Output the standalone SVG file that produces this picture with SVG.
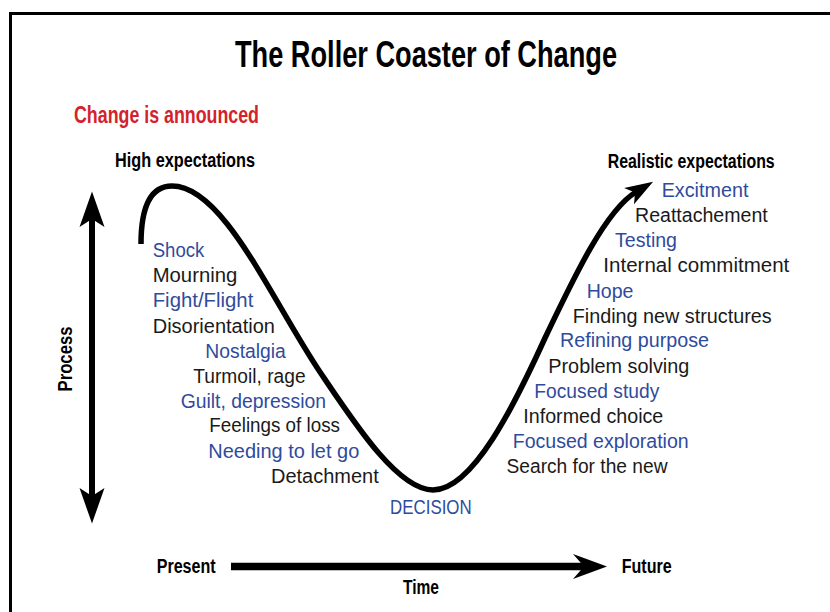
<svg xmlns="http://www.w3.org/2000/svg" width="830" height="612" viewBox="0 0 830 612">
<style>
.b{font-family:"Liberation Sans",Arial,sans-serif;font-weight:bold;fill:#000}
.r{font-family:"Liberation Sans",Arial,sans-serif;font-size:20px}
.k{fill:#1a1a1a}
.u{fill:#2f4b9c}
</style>
<rect width="830" height="612" fill="#fff"/>
<rect x="10.5" y="13.5" width="840" height="620" fill="none" stroke="#000" stroke-width="3"/>
<g id="title"><text class="b" x="235" y="67.3" font-size="36" textLength="382" lengthAdjust="spacingAndGlyphs">The Roller Coaster of Change</text></g>
<g id="announce"><text class="b" x="74" y="122.7" font-size="23" fill="#d2232a" style="fill:#d2232a" textLength="185" lengthAdjust="spacingAndGlyphs">Change is announced</text></g>
<g id="high"><text class="b" x="115" y="166.7" font-size="19.5" textLength="140" lengthAdjust="spacingAndGlyphs">High expectations</text></g>
<g id="realistic"><text class="b" x="607.7" y="168" font-size="19.5" textLength="167" lengthAdjust="spacingAndGlyphs">Realistic expectations</text></g>
<g id="connectors">
<path d="M141,244 C141,205 152,186 172,186 C223,186 270,297 320,372 C355,424 398,490 433,490 C473,490 515,404 545,338 C575,275 606,210 636,192" fill="none" stroke="#000" stroke-width="5.5"/>
<polygon points="653.1,181.7 624.1,188.1 635,192.5 634,204.3" fill="#000"/>
<line x1="92" y1="215" x2="92" y2="500" stroke="#000" stroke-width="6"/>
<polygon points="92,191.5 104.5,227 92,219 79.5,227" fill="#000"/>
<polygon points="92,523.5 104.5,488 92,496 79.5,488" fill="#000"/>
<line x1="231" y1="566.5" x2="590" y2="566.5" stroke="#000" stroke-width="7.5"/>
<polygon points="607,566.5 573,554 584,566.5 573,579" fill="#000"/>
</g>
<g id="process"><text class="b" transform="translate(71.7,359) rotate(-90)" x="0" y="0" font-size="21" text-anchor="middle" textLength="65" lengthAdjust="spacingAndGlyphs">Process</text></g>
<g id="axis-labels">
<text class="b" x="156.7" y="572.7" font-size="20" textLength="59" lengthAdjust="spacingAndGlyphs">Present</text>
<text class="b" x="621.7" y="572.7" font-size="20" textLength="50" lengthAdjust="spacingAndGlyphs">Future</text>
<text class="b" x="403" y="593.5" font-size="20" textLength="36" lengthAdjust="spacingAndGlyphs">Time</text>
</g>
<g id="left-stages">
<text class="r u" x="152.7" y="257.3" textLength="51.6" lengthAdjust="spacingAndGlyphs">Shock</text>
<text class="r k" x="152.7" y="282" textLength="84.6" lengthAdjust="spacingAndGlyphs">Mourning</text>
<text class="r u" x="152.7" y="307.3" textLength="100.6" lengthAdjust="spacingAndGlyphs">Fight/Flight</text>
<text class="r k" x="152.7" y="332.7" textLength="122.3" lengthAdjust="spacingAndGlyphs">Disorientation</text>
<text class="r u" x="205.3" y="357.5" textLength="80.5" lengthAdjust="spacingAndGlyphs">Nostalgia</text>
<text class="r k" x="193.3" y="383" textLength="112.3" lengthAdjust="spacingAndGlyphs">Turmoil, rage</text>
<text class="r u" x="180.7" y="407.5" textLength="145.3" lengthAdjust="spacingAndGlyphs">Guilt, depression</text>
<text class="r k" x="209.3" y="432" textLength="130.7" lengthAdjust="spacingAndGlyphs">Feelings of loss</text>
<text class="r u" x="208.3" y="457.7" textLength="151" lengthAdjust="spacingAndGlyphs">Needing to let go</text>
<text class="r k" x="271" y="483.3" textLength="107.7" lengthAdjust="spacingAndGlyphs">Detachment</text>
</g>
<g id="decision"><text class="r u" x="390" y="514.3" textLength="81.7" lengthAdjust="spacingAndGlyphs">DECISION</text></g>
<g id="right-stages">
<text class="r u" x="661.7" y="197.3" textLength="86.7" lengthAdjust="spacingAndGlyphs">Excitment</text>
<text class="r k" x="635" y="222.3" textLength="132.7" lengthAdjust="spacingAndGlyphs">Reattachement</text>
<text class="r u" x="615" y="247.3" textLength="62" lengthAdjust="spacingAndGlyphs">Testing</text>
<text class="r k" x="603.3" y="272.3" textLength="186" lengthAdjust="spacingAndGlyphs">Internal commitment</text>
<text class="r u" x="586.7" y="297.7" textLength="46.7" lengthAdjust="spacingAndGlyphs">Hope</text>
<text class="r k" x="572.7" y="322.7" textLength="199" lengthAdjust="spacingAndGlyphs">Finding new structures</text>
<text class="r u" x="560" y="347.3" textLength="149" lengthAdjust="spacingAndGlyphs">Refining purpose</text>
<text class="r k" x="548.3" y="372.7" textLength="141" lengthAdjust="spacingAndGlyphs">Problem solving</text>
<text class="r u" x="534.3" y="398.3" textLength="125" lengthAdjust="spacingAndGlyphs">Focused study</text>
<text class="r k" x="523.3" y="423.3" textLength="140" lengthAdjust="spacingAndGlyphs">Informed choice</text>
<text class="r u" x="512.7" y="448.3" textLength="176" lengthAdjust="spacingAndGlyphs">Focused exploration</text>
<text class="r k" x="506.5" y="473.3" textLength="161" lengthAdjust="spacingAndGlyphs">Search for the new</text>
</g>
</svg>
